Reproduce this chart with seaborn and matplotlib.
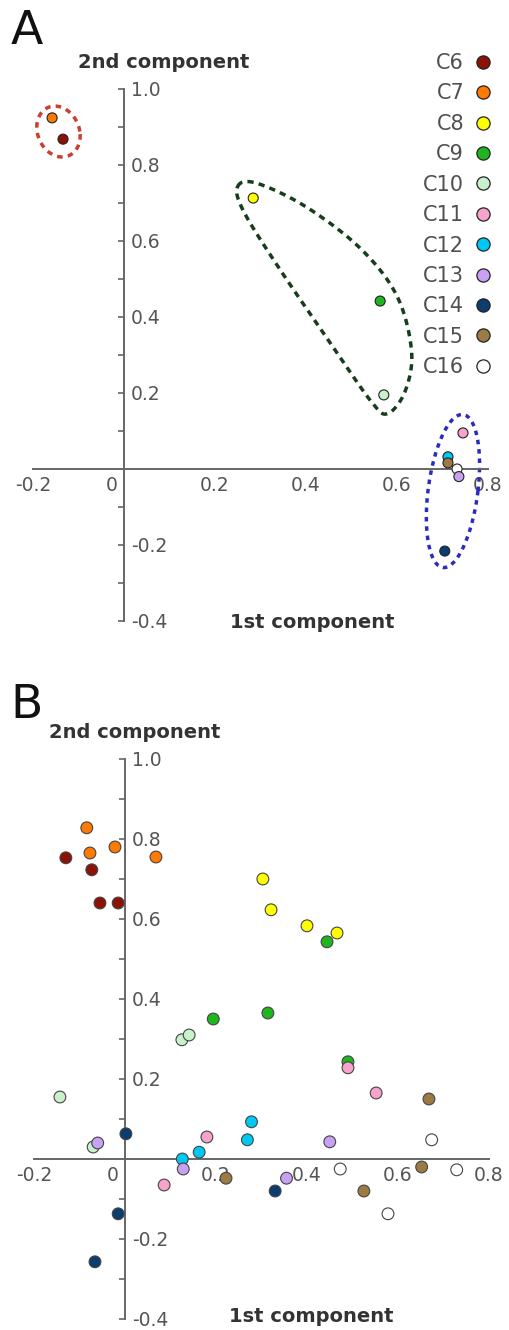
import numpy as np
import pandas as pd
import seaborn as sns
import matplotlib.pyplot as plt
from matplotlib.transforms import ScaledTranslation

sns.set_style('white')
plt.rcParams['font.family'] = ['DejaVu Sans']
plt.rcParams['axes.unicode_minus'] = False

# cluster names and colours
clusters = ['C6', 'C7', 'C8', 'C9', 'C10', 'C11', 'C12', 'C13', 'C14', 'C15', 'C16']
colors = ['#8c1206', '#ff7a00', '#ffff00', '#1fb51f', '#c9f2cc', '#f7a3cb',
          '#00c8f5', '#c8a2f2', '#0b3d6e', '#9b7a44', '#ffffff']

# panel A: one point per cluster
a_x = [-0.134, -0.158, 0.284, 0.563, 0.571, 0.745, 0.712, 0.736, 0.705, 0.712, 0.732]
a_y = [0.868, 0.924, 0.713, 0.442, 0.195, 0.095, 0.032, -0.020, -0.216, 0.016, 0.000]

# panel B: four points per cluster
b_x = {
    'C6': [-0.130, -0.073, -0.055, -0.015],
    'C7': [-0.084, -0.077, -0.022, 0.068],
    'C8': [0.303, 0.321, 0.400, 0.466],
    'C9': [0.194, 0.444, 0.314, 0.490],
    'C10': [0.125, 0.141, -0.143, -0.070],
    'C11': [0.490, 0.552, 0.180, 0.086],
    'C12': [0.278, 0.269, 0.163, 0.126],
    'C13': [0.450, -0.060, 0.128, 0.355],
    'C14': [0.002, 0.330, -0.015, -0.066],
    'C15': [0.668, 0.652, 0.222, 0.525],
    'C16': [0.674, 0.473, 0.729, 0.578],
}
b_y = {
    'C6': [0.753, 0.723, 0.640, 0.640],
    'C7': [0.828, 0.765, 0.780, 0.755],
    'C8': [0.700, 0.623, 0.583, 0.565],
    'C9': [0.350, 0.543, 0.365, 0.243],
    'C10': [0.298, 0.310, 0.155, 0.030],
    'C11': [0.228, 0.165, 0.055, -0.065],
    'C12': [0.093, 0.048, 0.017, 0.000],
    'C13': [0.043, 0.040, -0.025, -0.048],
    'C14': [0.063, -0.080, -0.137, -0.257],
    'C15': [0.150, -0.020, -0.048, -0.080],
    'C16': [0.048, -0.025, -0.027, -0.137],
}

# axis ticks
x_major = [-0.2, 0, 0.2, 0.4, 0.6, 0.8]
x_labels = ['-0.2', '0', '0.2', '0.4', '0.6', '0.8']
x_minor = [-0.1, 0.1, 0.3, 0.5, 0.7]
y_major = [-0.4, -0.2, 0.2, 0.4, 0.6, 0.8, 1.0]
y_labels = ['-0.4', '-0.2', '0.2', '0.4', '0.6', '0.8', '1.0']
y_minor = [-0.3, -0.1, 0.1, 0.3, 0.5, 0.7, 0.9]

# group outlines in panel A
green_outline = [(0.250, 0.744), (0.292, 0.752), (0.400, 0.690),
                 (0.520, 0.580), (0.600, 0.455), (0.632, 0.310), (0.618, 0.205),
                 (0.580, 0.146), (0.545, 0.175), (0.460, 0.320), (0.340, 0.530),
                 (0.262, 0.680)]
red_ring = dict(cx=-0.144, cy=0.888, rx=0.047, ry=0.067, shear=-0.008)
blue_ring = dict(cx=0.723, cy=-0.058, rx=0.055, ry=0.2015, shear=0.02)

W, H = 510, 1330


def box(l, t, r, b):
    return [l / W, 1 - b / H, (r - l) / W, (b - t) / H]


def closed_curve(pts, n=30):
    pts = np.asarray(pts)
    m = len(pts)
    t = np.linspace(0, 1, n, endpoint=False)[:, None]
    out = []
    for i in range(m):
        p0, p1, p2, p3 = pts[(i - 1) % m], pts[i], pts[(i + 1) % m], pts[(i + 2) % m]
        out.append(0.5 * (2 * p1 + (-p0 + p2) * t + (2 * p0 - 5 * p1 + 4 * p2 - p3) * t ** 2
                          + (-p0 + 3 * p1 - 3 * p2 + p3) * t ** 3))
    out = np.vstack(out)
    return np.vstack([out, out[:1]])


def ring(cx, cy, rx, ry, shear):
    t = np.linspace(0, 2 * np.pi, 200)
    return cx + rx * np.cos(t) + shear * np.sin(t), cy + ry * np.sin(t)


def style_axes(ax):
    ax.set_xlim(-0.2, 0.8)
    ax.set_ylim(-0.4, 1.0)
    ax.patch.set_alpha(0)
    ax.spines['top'].set_visible(False)
    ax.spines['left'].set_visible(False)
    for s in ['right', 'bottom']:
        ax.spines[s].set_position(('data', 0))
        ax.spines[s].set_color('#666666')
        ax.spines[s].set_linewidth(1.4)
        ax.spines[s].set_visible(True)
    ax.spines['right'].set_bounds(-0.4, 1.0)
    ax.spines['bottom'].set_bounds(-0.2, 0.8)
    ax.yaxis.tick_right()
    ax.set_xticks(x_major)
    ax.set_xticklabels(x_labels)
    ax.set_xticks(x_minor, minor=True)
    ax.set_yticks(y_major)
    ax.set_yticklabels(y_labels)
    ax.set_yticks(y_minor, minor=True)
    ax.tick_params(which='both', direction='in', length=4, width=1.2, color='#666666',
                   labelsize=13.5, labelcolor='#555555', pad=5)
    ax.set_xlabel('')
    ax.set_ylabel('')
    lbl = ax.get_xticklabels()[1]
    lbl.set_transform(lbl.get_transform() + ScaledTranslation(-9 / 72, 0, ax.figure.dpi_scale_trans))


fig = plt.figure(figsize=(W / 100, H / 100), dpi=100)
pal = dict(zip(clusters, colors))

# ---- panel A
axA = fig.add_axes(box(33, 89, 488, 621))
dfA = pd.DataFrame({'x': a_x, 'y': a_y, 'cluster': clusters})
draw_order = ['C6', 'C7', 'C8', 'C9', 'C10', 'C11', 'C12', 'C14', 'C15', 'C16', 'C13']
dfA = dfA.set_index('cluster').loc[draw_order].reset_index()

gx, gy = closed_curve(green_outline).T
axA.plot(gx, gy, color='#163d1c', lw=2.5, ls=(0, (1.8, 1.5)), zorder=1)
rx, ry = ring(**red_ring)
axA.plot(rx, ry, color='#c8402e', lw=2.5, ls=(0, (1.6, 1.5)), zorder=1)
bx, by = ring(**blue_ring)
axA.plot(bx, by, color='#2b2bc0', lw=2.5, ls=(0, (1.3, 1.4)), zorder=1)

sns.scatterplot(data=dfA, x='x', y='y', hue='cluster', hue_order=clusters, palette=pal,
                s=52, edgecolor='#222222', linewidth=0.8, ax=axA, zorder=3, clip_on=False)
style_axes(axA)

sns.move_legend(axA, 'upper right', bbox_to_anchor=(491.5 / W, 1 - 53 / H),
                bbox_transform=fig.transFigure, markerfirst=False, frameon=False, title=None,
                fontsize=15, labelspacing=0.50, handletextpad=0.51, handlelength=0.8,
                borderpad=0, borderaxespad=0)
leg = axA.get_legend()
for h in leg.legend_handles:
    h.set_markersize(9.5)
    h.set_markeredgecolor('#222222')
    h.set_markeredgewidth(0.9)
for t in leg.get_texts():
    t.set_color('#505050')

# ---- panel B
axB = fig.add_axes(box(34, 759, 489, 1319))
rows = []
for c in clusters:
    for xv, yv in zip(b_x[c], b_y[c]):
        rows.append((c, xv, yv))
dfB = pd.DataFrame(rows, columns=['cluster', 'x', 'y'])
sns.scatterplot(data=dfB, x='x', y='y', hue='cluster', hue_order=clusters, palette=pal,
                s=72, edgecolor='#444444', linewidth=0.8, ax=axB, zorder=3, clip_on=False,
                legend=False)
style_axes(axB)

# ---- titles
fig.text(27 / W, 1 - 31 / H, 'A', fontsize=34, ha='center', va='center', color='#111111')
fig.text(27 / W, 1 - 705 / H, 'B', fontsize=34, ha='center', va='center', color='#111111')
lab = dict(fontsize=14, fontweight='bold', color='#333333', ha='center', va='center')
fig.text(164 / W, 1 - 63 / H, '2nd component', **lab)
fig.text(312 / W, 1 - 622 / H, '1st component', **lab)
fig.text(135 / W, 1 - 733 / H, '2nd component', **lab)
fig.text(311 / W, 1 - 1317 / H, '1st component', **lab)

fig.savefig('out.png', dpi=100)
